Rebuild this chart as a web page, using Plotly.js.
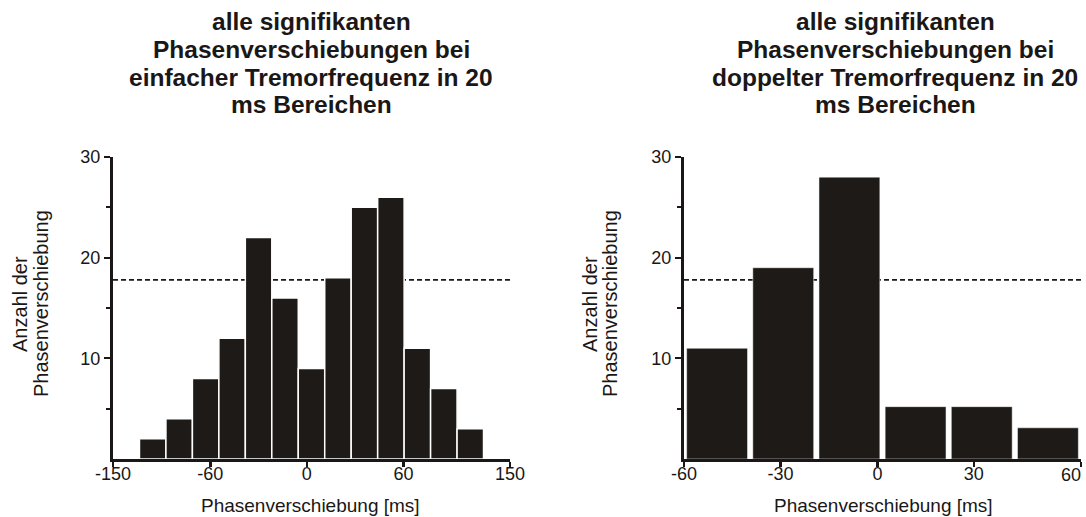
<!DOCTYPE html>
<html><head><meta charset="utf-8">
<script src="https://cdn.plot.ly/plotly-3.0.1.min.js"></script>
<style>html,body{margin:0;padding:0;background:#fff}#chart{width:1086px;height:517px}</style>
</head><body><div id="chart"></div>
<script>
// Left histogram: phase shifts at single tremor frequency, 20 ms bins
const singleBinCenters = [-140,-120,-100,-80,-60,-40,-20,0,20,40,60,80,100,120,140];
const singleCounts     = [0,2,4,8,12,22,16,9,18,25,26,11,7,3,0];
// Right histogram: phase shifts at double tremor frequency, 20 ms bins
const doubleBinCenters = [-50,-30,-10,10,30,50];
const doubleCounts     = [11,19,28,5.2,5.2,3.1];
// significance level (dashed line)
const significanceLevel = 17.8;
// tick labels
const singleTickLabels = ['-150','-60','0','60','150'];
const doubleTickLabels = ['-60','-30','0','30','60'];
const yTickLabels = ['10','20','30'];
const yTickValues = [10,20,30];
const yMinorTickValues = [5,15,25];
// texts
const titleSingle = ['alle signifikanten','Phasenverschiebungen bei','einfacher Tremorfrequenz in 20','ms Bereichen'];
const titleDouble = ['alle signifikanten','Phasenverschiebungen bei','doppelter Tremorfrequenz in 20','ms Bereichen'];
const xTitleText = 'Phasenverschiebung [ms]';
const yTitleLines = ['Anzahl der','Phasenverschiebung'];

const W = 1086, H = 517;
const px = v => v / W;
const py = v => 1 - v / H;
const INK = '#1a1716';
const BAR = '#1e1a17';
const FONT = 'Liberation Sans, Arial, Helvetica, sans-serif';

// tick placement as drawn in the reference figure
const singleTickPos = [-150,-76.5,-3.5,69.5,150];
const doubleTickPos = [-60,-30.8,-1.5,27.6,60];
const nLast = doubleTickLabels.length - 1;

const traces = [
  {type:'bar', x:singleBinCenters, y:singleCounts, width:20, xaxis:'x', yaxis:'y',
   marker:{color:BAR, line:{color:'#ffffff', width:1.5}}, hoverinfo:'x+y'},
  {type:'bar', x:doubleBinCenters, y:doubleCounts, width:18.4, xaxis:'x2', yaxis:'y2',
   marker:{color:BAR, line:{color:'#ffffff', width:0.5}}, hoverinfo:'x+y'},
  {type:'scatter', x:[], y:[], xaxis:'x3', yaxis:'y2', hoverinfo:'skip', showlegend:false}
];

function xAxis(domain, range, pos, labels, anchor){
  return {domain:domain, range:range, fixedrange:true, showgrid:false, zeroline:false,
    showline:true, linewidth:3, linecolor:INK, ticks:'outside', ticklen:5, tickwidth:2.5, tickcolor:INK,
    tickmode:'array', tickvals:pos, ticktext:labels, ticklabeloverflow:'allow', ticklabelstandoff:-9,
    tickfont:{family:FONT, size:18, color:INK}, anchor:anchor};
}
function yAxis(anchor){
  return {domain:[1-459/H, 1-157/H], range:[0,30], fixedrange:true, showgrid:false, zeroline:false,
    showline:true, linewidth:3, linecolor:INK, ticks:'outside', ticklen:6, tickwidth:2, tickcolor:INK,
    tickmode:'array', tickvals:yTickValues, ticktext:yTickLabels, ticklabeloverflow:'allow',
    tickfont:{family:FONT, size:18, color:INK}, anchor:anchor,
    minor:{tickmode:'array', tickvals:yMinorTickValues, ticks:'outside', ticklen:4, tickwidth:2, tickcolor:INK, showgrid:false}};
}

const xa1 = xAxis([px(113), px(510)], [-150,150], singleTickPos, singleTickLabels, 'y');
// right axis: last label is drawn by an overlay axis, left of its tick (figure edge)
const xa2 = xAxis([px(684), px(1081)], [-60,60], doubleTickPos,
  doubleTickLabels.map((l,i)=> i === nLast ? '' : l), 'y2');
const xa3 = xAxis([px(684), px(1081)], [-60,60], [doubleTickPos[nLast]], [doubleTickLabels[nLast]], 'y2');
Object.assign(xa3, {overlaying:'x2', showline:false, ticks:'', ticklabelposition:'outside left', ticklabelstandoff:3});

const annotations = [];
const titleY = [21, 49, 77, 105];
titleSingle.forEach((t,i)=>annotations.push({text:'<b>'+t+'</b>', xref:'paper', yref:'paper', x:px(311), y:py(titleY[i]),
  xanchor:'center', yanchor:'middle', showarrow:false, font:{family:FONT, size:24.5, color:INK}}));
titleDouble.forEach((t,i)=>annotations.push({text:'<b>'+t+'</b>', xref:'paper', yref:'paper', x:px(895), y:py(titleY[i]),
  xanchor:'center', yanchor:'middle', showarrow:false, font:{family:FONT, size:24.5, color:INK}}));
[[310],[883]].forEach(c=>annotations.push({text:xTitleText, xref:'paper', yref:'paper', x:px(c[0]), y:py(505),
  xanchor:'center', yanchor:'middle', showarrow:false, font:{family:FONT, size:19, color:INK}}));
[[20,41],[590,610]].forEach(cols=>yTitleLines.forEach((t,i)=>annotations.push({text:t, xref:'paper', yref:'paper',
  x:px(cols[i]), y:py(304), xanchor:'center', yanchor:'middle', textangle:-90, showarrow:false,
  font:{family:FONT, size:20, color:INK}})));

const shapes = [
  {type:'line', xref:'x domain', yref:'y', x0:0, x1:1, y0:significanceLevel, y1:significanceLevel,
   line:{color:INK, width:1.8, dash:'5px,3px'}, layer:'below'},
  {type:'line', xref:'x2 domain', yref:'y2', x0:0, x1:1, y0:significanceLevel, y1:significanceLevel,
   line:{color:INK, width:1.8, dash:'5px,3px'}, layer:'below'}
];

const layout = {width:W, height:H, margin:{l:0,r:0,t:0,b:0}, paper_bgcolor:'#ffffff', plot_bgcolor:'rgba(0,0,0,0)',
  showlegend:false, bargap:0, xaxis:xa1, yaxis:yAxis('x'), xaxis2:xa2, yaxis2:yAxis('x2'), xaxis3:xa3,
  annotations:annotations, shapes:shapes, font:{family:FONT, color:INK}};

Plotly.newPlot('chart', traces, layout, {displayModeBar:false, staticPlot:true});
</script></body></html>
